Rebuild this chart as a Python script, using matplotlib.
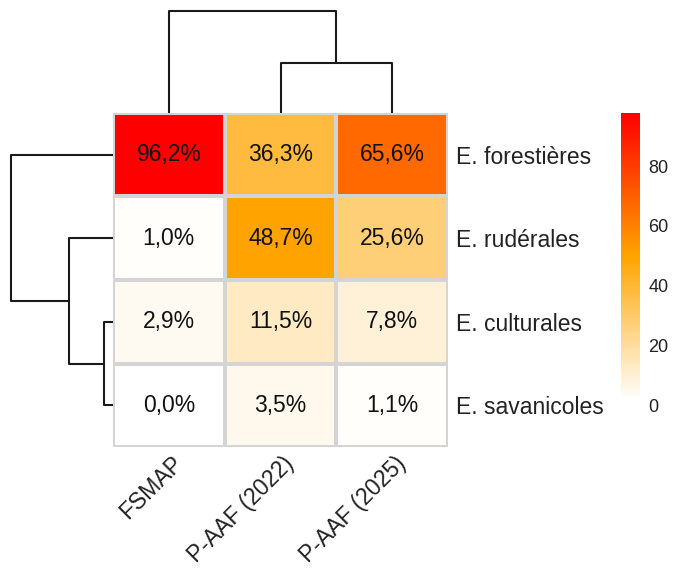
import numpy as np
import matplotlib
matplotlib.use("Agg")
import matplotlib.pyplot as plt
from matplotlib.colors import LinearSegmentedColormap
from matplotlib.transforms import offset_copy

plt.rcParams['font.family'] = ['Liberation Sans', 'DejaVu Sans']

# Data: share of species (%) per ecological group and survey
row_labels = ["E. forestières", "E. rudérales", "E. culturales", "E. savanicoles"]
col_labels = ["FSMAP", "P-AAF (2022)", "P-AAF (2025)"]
fsmap = [96.2, 1.0, 2.9, 0.0]
paaf_2022 = [36.3, 48.7, 11.5, 3.5]
paaf_2025 = [65.6, 25.6, 7.8, 1.1]
cbar_ticks = [0, 20, 40, 60, 80]

values = np.column_stack([fsmap, paaf_2022, paaf_2025])
cmap = LinearSegmentedColormap.from_list("wor", ["white", "orange", "red"])
vmin, vmax = 0, values.max()


def complete_linkage(X):
    # simple agglomerative clustering, complete linkage, euclidean distance
    n = len(X)
    D = np.sqrt(((X[:, None, :] - X[None, :, :]) ** 2).sum(-1))
    clusters = {i: [i] for i in range(n)}
    merges = []
    next_id = n
    while len(clusters) > 1:
        keys = list(clusters)
        best = None
        for i in range(len(keys)):
            for j in range(i + 1, len(keys)):
                a, b = keys[i], keys[j]
                d = max(D[p, q] for p in clusters[a] for q in clusters[b])
                if best is None or d < best[2]:
                    best = (a, b, d)
        a, b, d = best
        clusters[next_id] = clusters.pop(a) + clusters.pop(b)
        merges.append((a, b, d, next_id))
        next_id += 1
    return merges


def draw_dendro(ax, merges, n, orient):
    pos = {i: i + 0.5 for i in range(n)}
    hgt = {i: 0.0 for i in range(n)}
    for a, b, d, new in merges:
        xa, xb = pos[a], pos[b]
        if orient == "top":
            ax.plot([xa, xa, xb, xb], [hgt[a], d, d, hgt[b]], color="#1a1a1a", lw=1.5,
                    clip_on=False, solid_capstyle="butt")
        else:
            ax.plot([hgt[a], d, d, hgt[b]], [xa, xa, xb, xb], color="#1a1a1a", lw=1.5,
                    clip_on=False, solid_capstyle="butt")
        pos[new] = (xa + xb) / 2
        hgt[new] = d
    return max(m[2] for m in merges)


W, H = 673, 572
fig = plt.figure(figsize=(W / 100, H / 100), dpi=100)


def px_axes(x0, y0, x1, y1):
    return fig.add_axes([x0 / W, 1 - y1 / H, (x1 - x0) / W, (y1 - y0) / H])


hx0, hy0, hx1, hy1 = 113, 113, 448, 447
ax = px_axes(hx0, hy0, hx1, hy1)
ax_top = px_axes(hx0, 11, hx1, hy0)
ax_left = px_axes(11, hy0, hx0, hy1)
ax_cb = px_axes(621, 113, 640, 400)

# heatmap
nr, nc = values.shape
ax.pcolormesh(values, cmap=cmap, vmin=vmin, vmax=vmax, edgecolors="#d4d4d4", linewidth=1.5)
ax.set_xlim(0, nc)
ax.set_ylim(nr, 0)
for i in range(nr):
    for j in range(nc):
        ax.text(j + 0.5, i + 0.5, f"{values[i, j]:.1f}%".replace(".", ","),
                ha="center", va="center", fontsize=16.5, color="#111111")
ax.set_xticks([])
ax.yaxis.tick_right()
ax.set_yticks(np.arange(nr) + 0.5)
ax.set_yticklabels(row_labels, fontsize=16.5, color="#222222")
ax.tick_params(axis="y", length=0, pad=6)
for s in ax.spines.values():
    s.set_visible(False)

# column labels, rotated
lab_tr = offset_copy(ax.transData, fig=fig, x=2, y=-5, units="dots")
for j, lab in enumerate(col_labels):
    ax.text(j + 0.5, nr, lab, transform=lab_tr, rotation=45, rotation_mode="anchor",
            ha="right", va="top", fontsize=16.5, color="#222222")

# dendrograms
hmax = draw_dendro(ax_top, complete_linkage(values.T), nc, "top")
ax_top.set_xlim(0, nc)
ax_top.set_ylim(0, hmax)
ax_top.axis("off")

hmax = draw_dendro(ax_left, complete_linkage(values), nr, "left")
ax_left.set_xlim(hmax, 0)
ax_left.set_ylim(nr, 0)
ax_left.axis("off")

# colour bar
grad = np.linspace(vmin, vmax, 256).reshape(-1, 1)
ax_cb.imshow(grad, cmap=cmap, vmin=vmin, vmax=vmax, aspect="auto", origin="lower",
             extent=[0, 1, vmin, vmax])
ax_cb.set_xticks([])
ax_cb.set_yticks([])
for s in ax_cb.spines.values():
    s.set_visible(False)
cb_tr = offset_copy(ax_cb.transData, fig=fig, x=0, y=-7, units="dots")
for t in cbar_ticks:
    ax_cb.text(1.45, t, str(t), transform=cb_tr, ha="left", va="center",
               fontsize=13, color="#222222")

fig.savefig("out.png", dpi=100)
